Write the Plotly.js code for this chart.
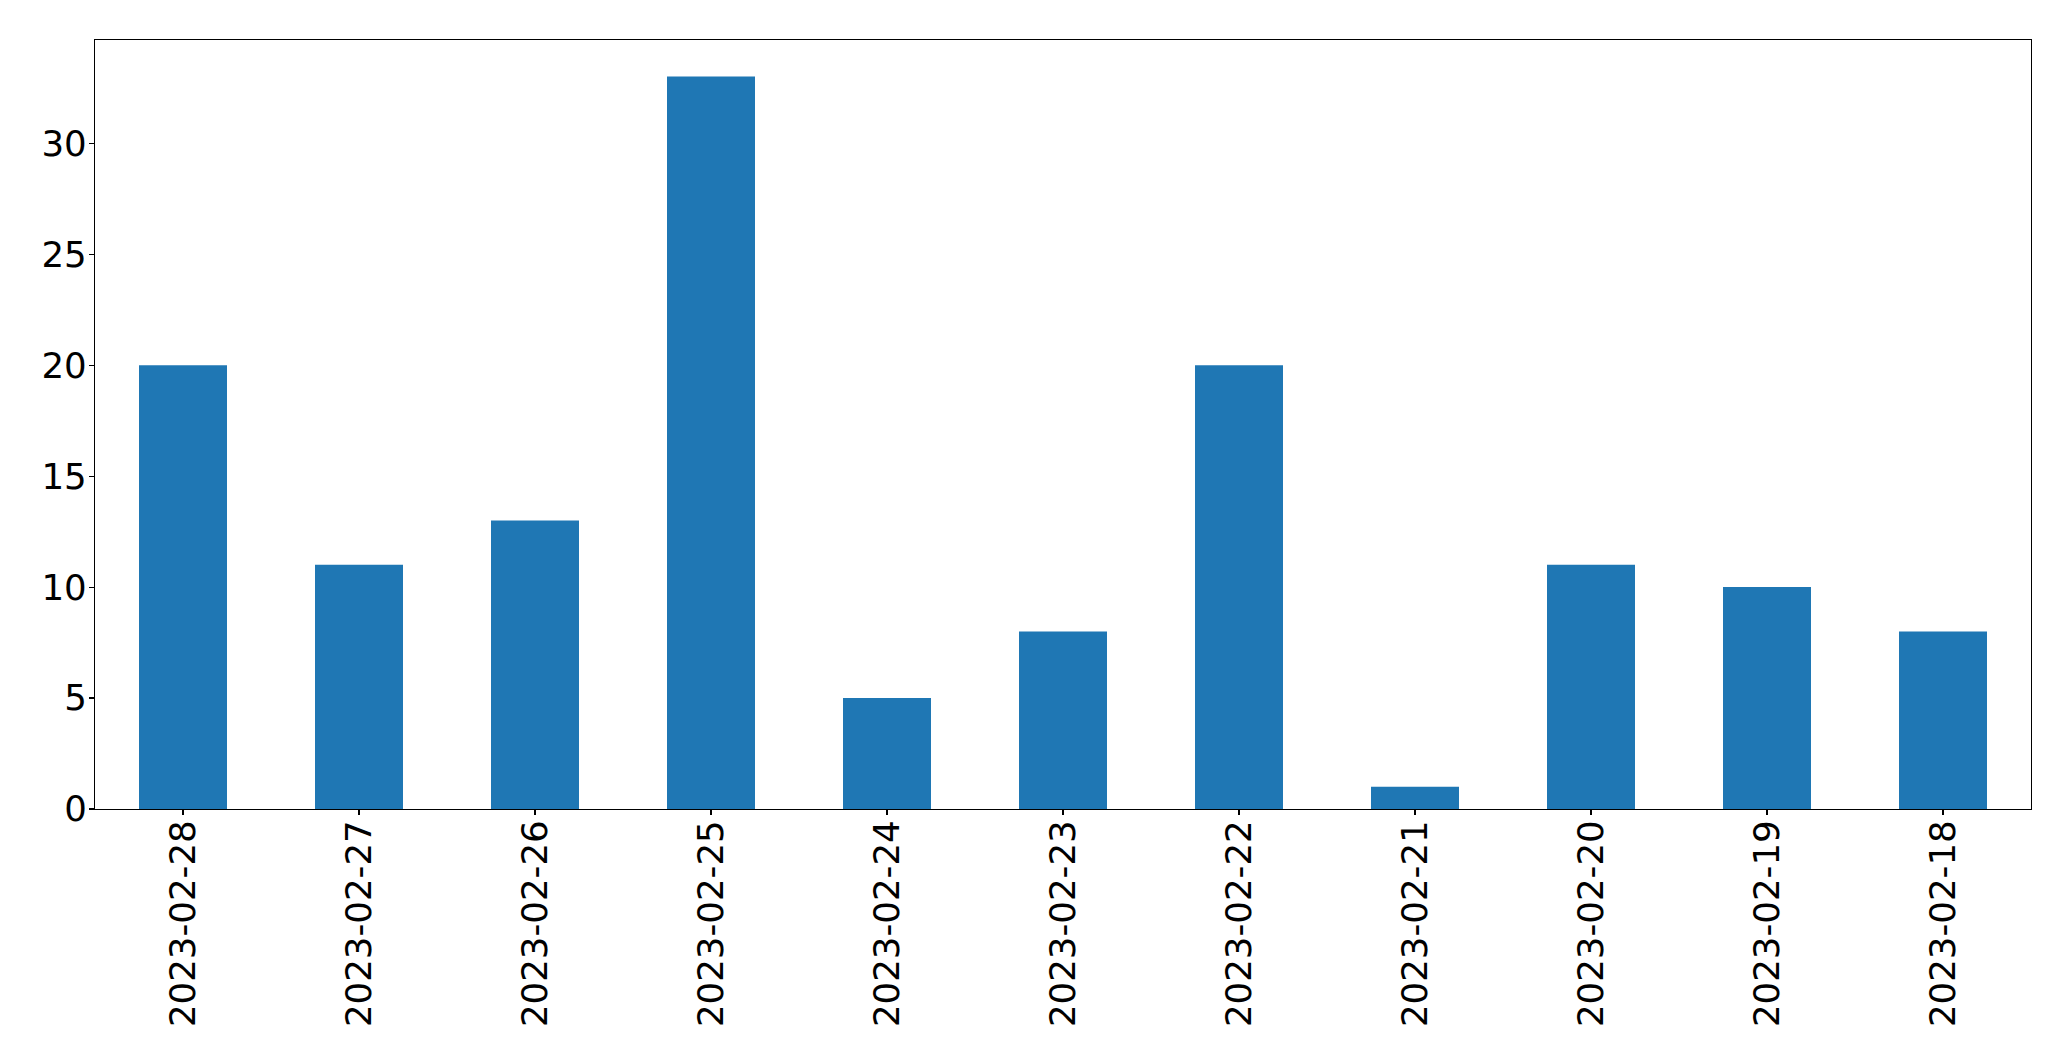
<!DOCTYPE html>
<html>
<head>
<meta charset="utf-8">
<script src="https://cdn.plot.ly/plotly-3.0.1.min.js"></script>
<style>html,body{margin:0;padding:0;background:#fff;}#chart{width:2071px;height:1061px;}</style>
</head>
<body>
<div id="chart"></div>
<script>
const dates = ["2023-02-28","2023-02-27","2023-02-26","2023-02-25","2023-02-24","2023-02-23","2023-02-22","2023-02-21","2023-02-20","2023-02-19","2023-02-18"];
const counts = [20, 11, 13, 33, 5, 8, 20, 1, 11, 10, 8];
const yTicks = [0, 5, 10, 15, 20, 25, 30];

const trace = {
  type: "bar",
  x: dates,
  y: counts,
  width: 0.5,
  marker: {color: "#1f77b4", line: {width: 0}},
  hoverinfo: "x+y"
};

const font = {family: "DejaVu Sans, sans-serif", size: 35.6, color: "#000"};

const layout = {
  width: 2071,
  height: 1061,
  margin: {l: 94.5, r: 39.5, t: 39.5, b: 252, pad: 0},
  paper_bgcolor: "#fff",
  plot_bgcolor: "#fff",
  showlegend: false,
  font: font,
  xaxis: {
    type: "category",
    range: [-0.5, 10.5],
    tickangle: -90,
    ticks: "outside",
    ticklen: 5,
    tickwidth: 1.1,
    tickcolor: "#000",
    showline: true,
    linecolor: "#000",
    linewidth: 1.1,
    mirror: true,
    showgrid: false,
    zeroline: false,
    tickfont: font,
    ticklabelstandoff: -9
  },
  yaxis: {
    range: [0, 34.65],
    tickmode: "array",
    tickvals: yTicks,
    ticktext: yTicks.map(String),
    ticks: "outside",
    ticklen: 5,
    tickwidth: 1.1,
    tickcolor: "#000",
    showline: true,
    linecolor: "#000",
    linewidth: 1.1,
    mirror: true,
    showgrid: false,
    zeroline: false,
    tickfont: font,
    ticklabelstandoff: -5
  }
};

Plotly.newPlot("chart", [trace], layout, {displayModeBar: false, staticPlot: true});
</script>
</body>
</html>
